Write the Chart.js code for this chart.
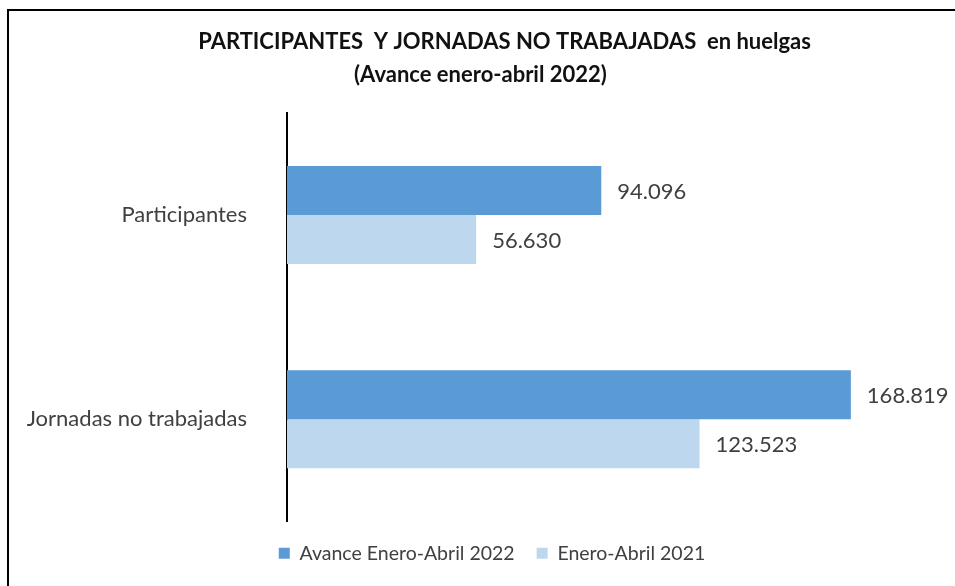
<!DOCTYPE html>
<html>
<head>
<meta charset="utf-8">
<script src="https://cdn.jsdelivr.net/npm/chart.js@4.4.0/dist/chart.umd.min.js"></script>
<style>
  body { margin: 0; background: #fff; }
  #frame { position: absolute; left: 7px; top: 9px; width: 1000px; height: 1000px; border: 2px solid #000; }
  #wrap { position: absolute; left: 0; top: 0; width: 955px; height: 586px; }
</style>
</head>
<body>
<div id="frame"></div>
<div id="wrap"><canvas id="chart"></canvas></div>
<script>
// datos del gráfico
const categorias = ['Participantes', 'Jornadas no trabajadas'];
const avance2022 = [94096, 168819];
const eneroAbril2021 = [56630, 123523];
const series = ['Avance Enero-Abril 2022', 'Enero-Abril 2021'];

const FONT = 'Lato, "Open Sans", sans-serif';

function formato(n) {
    return String(n).replace(/\B(?=(\d{3})+(?!\d))/g, '.');
}

// etiquetas de valor al final de cada barra
const etiquetas = {
    id: 'etiquetas',
    afterLayout(chart) {
        // que las etiquetas del eje no se recorten por el padding izquierdo
        chart.scales.y.left = 0;
    },
    afterDatasetsDraw(chart) {
        const ctx = chart.ctx;
        ctx.save();
        ctx.font = '22px ' + FONT;
        ctx.fillStyle = '#404040';
        ctx.textAlign = 'left';
        ctx.textBaseline = 'middle';
        chart.data.datasets.forEach((ds, i) => {
            chart.getDatasetMeta(i).data.forEach((bar, j) => {
                ctx.fillText(formato(ds.data[j]), bar.x + 16, bar.y + 1);
            });
        });
        ctx.restore();
    }
};

new Chart(document.getElementById('chart'), {
    type: 'bar',
    data: {
        labels: categorias,
        datasets: [
            { label: series[0], data: avance2022, backgroundColor: '#5B9BD5' },
            { label: series[1], data: eneroAbril2021, backgroundColor: '#BDD7EE' }
        ]
    },
    options: {
        indexAxis: 'y',
        responsive: true,
        maintainAspectRatio: false,
        animation: false,
        barPercentage: 1,
        categoryPercentage: 0.48,
        layout: { padding: { left: 54, right: 0, top: 0, bottom: 13 } },
        scales: {
            x: {
                min: 0,
                max: 200000,
                grid: { display: false },
                border: { display: false },
                ticks: { display: false },
                afterFit: scale => { scale.height = 0; }
            },
            y: {
                grid: { display: false },
                border: { color: '#000', width: 2 },
                ticks: { color: '#404040', font: { size: 22, family: FONT }, padding: 32 },
                afterFit: scale => { scale.width = 233; }
            }
        },
        plugins: {
            title: {
                display: true,
                text: 'PARTICIPANTES  Y JORNADAS NO TRABAJADAS  en huelgas',
                color: '#111',
                font: { size: 22, weight: 'bold', family: FONT, lineHeight: 1.2 },
                padding: { top: 29, bottom: 6 }
            },
            subtitle: {
                display: true,
                // espacios al final para desplazarlo a la izquierda como en el original
                text: '(Avance enero-abril 2022)' + ' '.repeat(9),
                color: '#111',
                font: { size: 22, weight: 'bold', family: FONT, lineHeight: 1.2 },
                padding: { top: 0, bottom: 25 }
            },
            legend: {
                position: 'bottom',
                labels: {
                    color: '#404040',
                    font: { size: 19.5, family: FONT },
                    boxWidth: 11,
                    boxHeight: 11,
                    padding: 22,
                    generateLabels: chart => {
                        const items = Chart.defaults.plugins.legend.labels.generateLabels(chart);
                        items[items.length - 1].text += ' '.repeat(5);
                        return items;
                    }
                }
            },
            tooltip: { enabled: false }
        }
    },
    plugins: [etiquetas]
});
</script>
</body>
</html>
